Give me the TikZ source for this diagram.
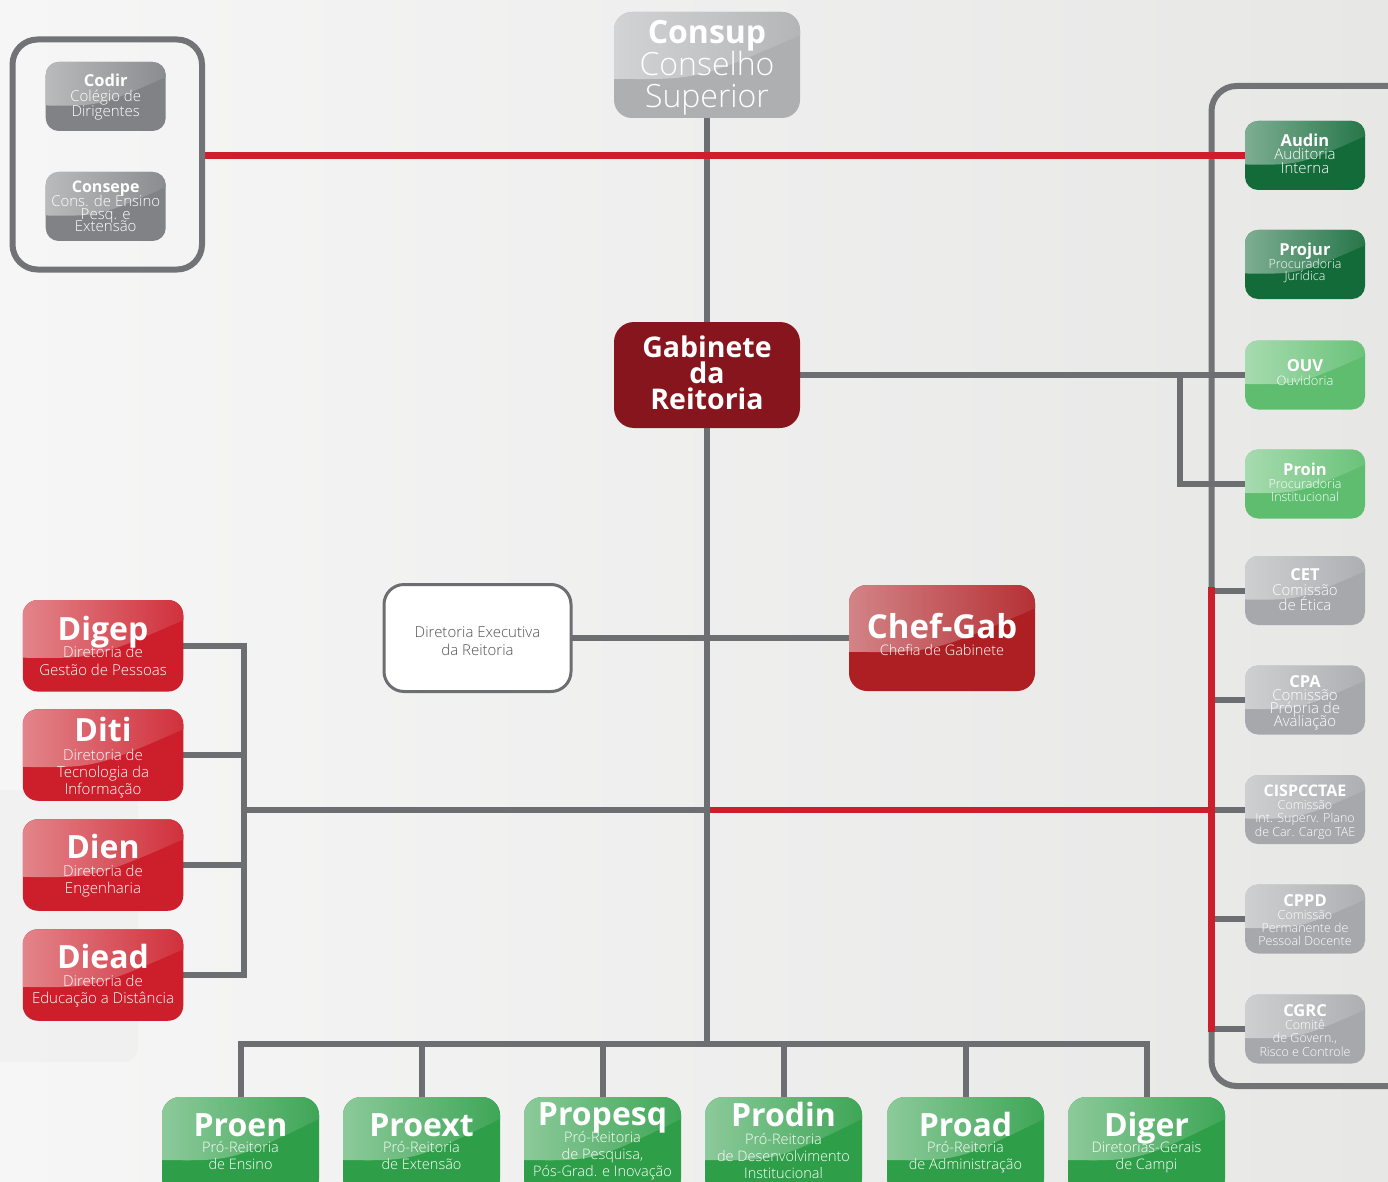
\documentclass[tikz,border=0pt]{standalone}
\usepackage{fontspec}
\setmainfont{Open Sans}
\IfFontExistsTF{Open Sans Light}
  {\newfontfamily\thinfont{Open Sans Light}}
  {\newcommand\thinfont{\normalfont}}
\usetikzlibrary{calc}
\pgfdeclarelayer{back}
\pgfdeclarelayer{wires}
\pgfsetlayers{back,wires,main}

\definecolor{wire}{HTML}{6D6E71}
\definecolor{redwire}{HTML}{CC1F2B}
\definecolor{framegray}{HTML}{727376}
\definecolor{consupgray}{HTML}{AEAFB1}
\definecolor{councilgray}{HTML}{808285}
\definecolor{commgray}{HTML}{A6A8AB}
\definecolor{darkgreen}{HTML}{146B3A}
\definecolor{lightgreen}{HTML}{5EBD6E}
\definecolor{progreen}{HTML}{2E9E48}
\definecolor{dirred}{HTML}{CC1F2B}
\definecolor{chefred}{HTML}{AE1F24}
\definecolor{gabred}{HTML}{86151D}
\definecolor{bgleft}{HTML}{F6F6F6}
\definecolor{bgright}{HTML}{E7E7E6}
\definecolor{textgray}{HTML}{4F5052}

\newcommand\fs[1]{\fontsize{#1}{#1}\selectfont}
% one centred text line per entry, baselines #4 apart
\newcommand\stack[6]{\foreach \tline [count=\k] in {#6}{\node[#5] (#1-\k) at (#2,{#3+(\k-1)*(#4)}) {\tline};}}

\tikzset{
  x=1pt, y=-1pt,
  tile/.style={fill=#1, draw=none, inner sep=0pt, outer sep=0pt,
    path picture={
      \shade[sharp corners, left color=#1!55!white, right color=#1!92!white]
        let \p1=(path picture bounding box.north west),
            \p2=(path picture bounding box.south east) in
        (\x1,\y1) -- (\x2,\y1) -- (\x2,{\y1+0.22*(\y2-\y1)})
        .. controls ({\x1+0.45*(\x2-\x1)},{\y1+0.64*(\y2-\y1)}) ..
        (\x1,{\y1+0.63*(\y2-\y1)}) -- cycle;
    }},
  boxS/.style={tile=#1, rounded corners=13, minimum width=120, minimum height=69},
  boxL/.style={tile=#1, rounded corners=15, minimum width=160.5, minimum height=91.5},
  boxB/.style={tile=#1, rounded corners=18, minimum width=157, minimum height=100},
  boxC/.style={rounded corners=18, minimum width=186, minimum height=106, inner sep=0pt, outer sep=0pt},
  wire/.style={draw=wire, line width=6pt},
  redw/.style={draw=redwire, line width=6.5pt},
  frame/.style={draw=framegray, line width=6pt, rounded corners=25},
  txt/.style={text=white, inner sep=0pt, anchor=base},
  hd/.style={txt, font=\fs{#1}\bfseries},
  sb/.style={txt, font=\thinfont\fs{#1}},
}

\begin{document}
\begin{tikzpicture}
\useasboundingbox (0,0) rectangle (1388,1182);
\begin{pgfonlayer}{back}
  \shade[left color=bgleft, right color=bgright] (0,0) rectangle (1388,1182);
  \fill[black, opacity=0.02, rounded corners=14] (-20,790) rectangle (138,1062);
\end{pgfonlayer}

% Conselho Superior
\node[tile=consupgray, boxC] (consup) at (707,65) {};
\node[hd=32] (consup-t) at (707,44) {Consup};
\stack{consup}{707}{76}{32}{sb=32}{Conselho,Superior}

% councils group
\node[frame, minimum width=189.5, minimum height=230, inner sep=0pt] (leftgrp) at (107.25,154.5) {};
\node[boxS=councilgray] (codir) at (105.7,96.5) {};
\node[hd=16.5] (codir-t) at (105.7,86.7) {Codir};
\stack{codir}{105.7}{101.7}{14.5}{sb=15}{Colégio de,Dirigentes}
\node[boxS=councilgray] (consepe) at (105.7,206.5) {};
\node[hd=16] (consepe-t) at (105.7,193) {Consepe};
\stack{consepe}{105.7}{206.7}{12.5}{sb=15}{Cons. de Ensino,Pesq. e,Extensão}

% Gabinete da Reitoria
\node[boxC, fill=gabred, rounded corners=20] (gab) at (707,375) {};
\node[hd=28.5] (gab-t) at (707,357) {Gabinete};
\stack{gab}{707}{383}{26}{hd=28.5}{da,Reitoria}

% Diretoria Executiva and Chefia de Gabinete
\node[boxC, fill=white, draw=wire, line width=3pt, rounded corners=20, minimum width=187, minimum height=107] (dex) at (477.5,638) {};
\stack{dex}{477.5}{637.5}{18}{sb=15, text=textgray}{Diretoria Executiva,da Reitoria}
\node[tile=chefred, boxC] (chef) at (942,638) {};
\node[hd=33] (chef-t) at (942,638) {Chef-Gab};
\stack{chef}{942}{655}{0}{sb=14.5}{Chefia de Gabinete}

% right column
\node[boxS=darkgreen] (audin) at (1305,155.5) {};
\node[hd=16.5] (audin-t) at (1305,146.5) {Audin};
\stack{audin}{1305}{160}{13.3}{sb=15}{Auditoria,Interna}
\node[boxS=darkgreen] (projur) at (1305,264.5) {};
\node[hd=16.5] (projur-t) at (1305,255) {Projur};
\stack{projur}{1305}{268.3}{12.3}{sb=12.5}{Procuradoria,Jurídica}
\node[boxS=lightgreen] (ouv) at (1305,375) {};
\node[hd=16.5] (ouv-t) at (1305,371) {OUV};
\stack{ouv}{1305}{385}{0}{sb=13}{Ouvidoria}
\node[boxS=lightgreen] (proin) at (1305,484) {};
\node[hd=16.5] (proin-t) at (1305,475) {Proin};
\stack{proin}{1305}{488}{13.5}{sb=12.5}{Procuradoria,Institucional}
\node[boxS=commgray] (cet) at (1305,590.5) {};
\node[hd=16.5] (cet-t) at (1305,580) {CET};
\stack{cet}{1305}{595}{15.5}{sb=15}{Comissão,de Ética}
\node[boxS=commgray] (cpa) at (1305,700) {};
\node[hd=16.5] (cpa-t) at (1305,687.5) {CPA};
\stack{cpa}{1305}{700.5}{13}{sb=15}{Comissão,Própria de,Avaliação}
\node[boxS=commgray] (cisp) at (1305,809.5) {};
\node[hd=16] (cisp-t) at (1305,796.7) {CISPCCTAE};
\stack{cisp}{1305}{809}{13.5}{sb=12.5}{Comissão,Int. Superv. Plano,de Car. Cargo TAE}
\node[boxS=commgray] (cppd) at (1305,919) {};
\node[hd=16.5] (cppd-t) at (1305,906) {CPPD};
\stack{cppd}{1305}{919.3}{13.3}{sb=12.5}{Comissão,Permanente de,Pessoal Docente}
\node[boxS=commgray] (cgrc) at (1305,1029) {};
\node[hd=16.5] (cgrc-t) at (1305,1016) {CGRC};
\stack{cgrc}{1305}{1029}{13.5}{sb=12.5}{Comitê,{de Govern.,},Risco e Controle}

% directorates
\node[boxL=dirred] (digep) at (103,645.8) {};
\node[hd=32] (digep-t) at (103,640.7) {Digep};
\stack{digep}{103}{657.7}{17.3}{sb=15}{Diretoria de,Gestão de Pessoas}
\node[boxL=dirred] (diti) at (103,755) {};
\node[hd=32] (diti-t) at (103,741.7) {Diti};
\stack{diti}{103}{760}{17.3}{sb=15}{Diretoria de,Tecnologia da,Informação}
\node[boxL=dirred] (dien) at (103,865) {};
\node[hd=32] (dien-t) at (103,858.3) {Dien};
\stack{dien}{103}{876.5}{17.3}{sb=15}{Diretoria de,Engenharia}
\node[boxL=dirred] (diead) at (103,975) {};
\node[hd=32] (diead-t) at (103,968.3) {Diead};
\stack{diead}{103}{986.5}{17.3}{sb=15}{Diretoria de,Educação a Distância}

% pro-rectorates
\node[boxB=progreen] (proen) at (240.5,1147) {};
\node[hd=32] (proen-t) at (240.5,1136) {Proen};
\stack{proen}{240.5}{1152.5}{17}{sb=14.5}{Pró-Reitoria,de Ensino}
\node[boxB=progreen] (proext) at (421.5,1147) {};
\node[hd=32] (proext-t) at (421.5,1136) {Proext};
\stack{proext}{421.5}{1152.5}{17}{sb=14.5}{Pró-Reitoria,de Extensão}
\node[boxB=progreen] (propesq) at (602.5,1147) {};
\node[hd=32] (propesq-t) at (602.5,1125) {Propesq};
\stack{propesq}{602.5}{1142}{17}{sb=14.5}{Pró-Reitoria,{de Pesquisa,},Pós-Grad. e Inovação}
\node[boxB=progreen] (prodin) at (783.5,1147) {};
\node[hd=32] (prodin-t) at (783.5,1126) {Prodin};
\stack{prodin}{783.5}{1144}{17}{sb=14.5}{Pró-Reitoria,de Desenvolvimento,Institucional}
\node[boxB=progreen] (proad) at (965.5,1147) {};
\node[hd=32] (proad-t) at (965.5,1136) {Proad};
\stack{proad}{965.5}{1152.5}{17}{sb=14.5}{Pró-Reitoria,de Administração}
\node[boxB=progreen] (diger) at (1146.5,1147) {};
\node[hd=32] (diger-t) at (1146.5,1136) {Diger};
\stack{diger}{1146.5}{1152.5}{17}{sb=14.5}{Diretorias-Gerais,de Campi}

% connectors
\coordinate (bus) at (707,1044);
\coordinate (lbus) at (244,810);
\coordinate (mid) at (707,810);
\coordinate (fork) at (1180,375);
\coordinate (rtop) at (1211.5,587);
\coordinate (rbot) at (1211.5,1032);
\begin{pgfonlayer}{wires}
  \draw[frame] (1400,86) -- (1211.5,86) -- (1211.5,1086) -- (1400,1086);
  \draw[redw] (mid) -- (mid -| rtop);
  \draw[wire] (consup.south) -- (bus);
  \draw[wire] (gab.east) -- (ouv.west);
  \draw[wire] (fork) |- (proin.west);
  \draw[wire] (dex.east) -- (chef.west);
  \draw[wire] (digep.east) -| (lbus) |- (diead.east);
  \draw[wire] (diti.east) -- (diti.east -| lbus);
  \draw[wire] (dien.east) -- (dien.east -| lbus);
  \draw[wire] (lbus) -- (mid);
  \draw[wire] (proen.north) -- (proen.north |- bus) -- (diger.north |- bus) -- (diger.north);
  \foreach \n in {proext,propesq,prodin,proad}
    \draw[wire] (\n.north) -- (\n.north |- bus);
  \foreach \n in {cet,cpa,cisp,cppd,cgrc}
    \draw[wire] (\n.west -| rtop) -- (\n.west);
  \draw[redw] (rtop) -- (rbot);
  \draw[redw] (leftgrp.east |- audin.west) -- (audin.west);
\end{pgfonlayer}
\end{tikzpicture}
\end{document}
